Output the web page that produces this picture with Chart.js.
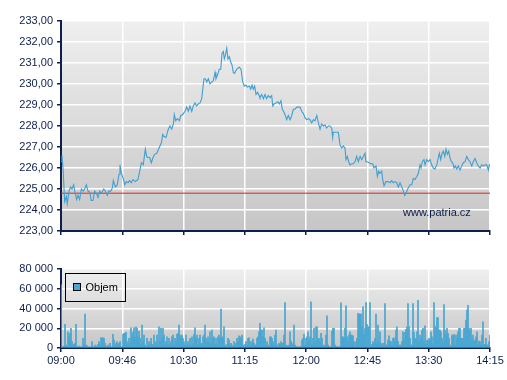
<!DOCTYPE html>
<html><head><meta charset="utf-8">
<script src="https://cdn.jsdelivr.net/npm/chart.js@4/dist/chart.umd.min.js"></script>
<style>
html,body{margin:0;padding:0;background:#fff;}
#wrap{position:relative;width:507px;height:380px;overflow:hidden;}
#c1{position:absolute;left:0;top:0;width:507px;height:237px;}
#c2{position:absolute;left:0;top:250px;width:507px;height:130px;}
</style></head><body>
<div id="wrap"><canvas id="c1" width="507" height="237"></canvas><canvas id="c2" width="507" height="130"></canvas></div>
<script>
// ---- data ----
const timeLabels = ['09:00','09:46','10:30','11:15','12:00','12:45','13:30','14:15'];
const priceMinutes = [0,0.7,1.5,2.7,3.9,4.6,5.9,7.1,8.1,9.3,10.1,11.5,12.5,13.7,14.9,16.4,17.4,18.6,19.8,21.1,22.2,23.5,24.7,25.9,27.2,28.4,29.6,31.4,32.5,34.0,35.0,36.5,37.7,38.4,39.9,41.3,42.6,43.3,44.3,45.7,46.8,47.9,49.2,50.4,51.6,52.9,54.6,56.5,57.8,59.0,60.4,61.9,62.9,63.9,65.1,66.3,67.6,68.8,70.3,72.0,73.7,74.7,75.6,77.1,78.8,80.0,81.3,82.5,83.2,84.2,85.4,86.9,87.9,89.4,91.1,92.3,93.5,94.7,96.0,97.1,98.4,99.6,100.8,102.1,103.3,104.0,105.0,106.0,107.0,108.2,109.4,110.7,111.8,113.1,113.8,114.8,116.2,117.3,118.2,119.2,119.9,120.6,121.7,122.6,123.6,124.6,125.6,126.5,127.5,128.5,129.8,130.9,132.2,133.4,134.6,135.8,136.8,138.3,139.3,140.3,141.2,142.2,143.2,144.4,145.4,146.1,147.4,148.6,149.8,151.0,152.2,153.5,154.7,155.5,156.4,157.9,159.1,160.3,161.5,162.5,163.7,164.7,165.7,166.9,168.2,169.4,170.6,171.8,173.1,174.3,175.5,176.7,177.9,179.2,180.4,181.6,182.8,184.1,185.3,186.5,187.8,189.0,190.2,191.4,192.6,193.9,195.1,196.3,197.5,198.8,199.5,199.9,201.2,202.4,203.6,204.9,206.1,207.3,208.5,209.3,210.2,211.2,212.2,213.4,214.6,215.9,217.1,218.3,219.6,220.8,222.0,223.2,223.9,224.9,226.2,227.4,228.9,229.8,231.3,232.3,233.3,234.2,235.5,236.2,237.2,238.6,240.3,241.6,242.8,244.0,245.3,246.5,247.7,248.9,250.2,251.4,252.4,253.3,254.3,255.3,256.3,257.5,258.7,259.9,261.2,262.4,263.6,264.4,265.3,266.5,267.3,268.5,269.7,271.0,272.2,273.4,274.6,275.9,277.1,277.8,278.8,279.8,280.7,281.8,282.7,283.7,284.7,285.6,286.6,287.6,288.6,289.5,290.6,291.7,293.0,294.2,295.4,296.7,297.9,299.1,300.3,301.6,302.7,304.0,305.2,306.4,307.7,308.9,310.1,311.3,312.6,313.8,314.5,315];
const prices = [226.3,226.6,226.0,224.4,224.65,224.3,224.9,225.1,225.0,225.2,224.9,224.5,224.7,224.5,225.0,224.9,225.0,225.2,224.9,224.85,224.45,224.45,224.9,224.8,224.6,224.9,224.8,225.0,224.9,224.7,224.9,224.9,225.05,225.4,225.1,225.2,225.7,226.15,225.75,225.5,225.2,225.35,225.3,225.4,225.3,225.45,225.35,225.45,225.85,226.25,226.15,226.9,226.55,226.5,226.5,226.25,226.5,226.65,226.7,226.95,227.2,227.6,227.5,227.45,227.85,228.0,227.85,228.1,228.55,228.25,228.35,228.25,228.5,228.55,228.7,228.9,228.7,228.95,228.7,228.95,229.1,228.95,229.05,229.1,229.3,229.7,230.25,230.25,230.1,230.25,230.0,230.1,230.15,230.55,230.25,230.4,230.7,230.7,231.45,231.55,231.2,231.35,231.7,231.2,231.3,231.05,230.9,230.55,230.5,230.65,230.75,230.8,230.7,230.1,229.9,229.95,229.85,229.9,229.75,229.95,229.75,229.9,229.5,229.6,229.45,229.35,229.5,229.3,229.5,229.3,229.45,229.35,229.45,228.95,229.05,229.1,229.15,229.05,229.2,228.8,228.65,228.5,228.3,228.5,228.3,228.5,228.8,228.8,228.9,228.9,228.9,228.7,228.6,228.4,228.3,228.35,228.3,228.15,228.3,228.25,228.5,228.15,227.85,228.1,228.0,228.05,227.9,228.0,228.0,227.9,227.45,227.7,227.7,227.7,227.7,227.1,226.95,227.05,226.95,226.4,226.55,226.3,226.15,226.2,226.2,226.3,226.55,226.3,226.55,226.4,226.55,226.7,226.3,226.3,226.25,226.2,226.2,226.0,226.1,225.6,225.85,225.75,225.85,225.45,225.15,225.35,225.35,225.3,225.4,225.3,225.35,225.3,225.1,225.3,225.1,224.9,224.7,224.8,224.95,225.1,225.2,225.2,225.5,225.45,225.6,225.75,226.15,226.0,226.3,226.4,226.15,226.4,226.3,226.4,226.15,226.0,225.95,226.15,226.5,226.7,226.4,226.7,226.8,226.55,226.9,226.65,226.8,226.5,226.3,226.25,226.0,226.1,225.95,226.1,225.9,226.1,226.25,226.3,226.55,226.4,226.3,226.1,226.3,226.45,226.25,226.1,226.0,226.15,226.1,226.15,226.15,225.9,226.15,226.1];
const previousClose = 224.8;
const volumes = [
64000,1300,1300,2000,24000,3000,1300,16500,11400,14800,19800,6400,3000,3700,4700,23900,1300,1300,2000,1300,
1000,1300,9700,3000,34300,3000,2300,1300,1000,1300,1000,6400,1000,1300,3000,2300,1000,3700,6400,3000,
10400,10400,10400,9700,4700,2300,1000,3000,1000,4700,1300,1000,13800,8000,3000,4700,6400,3000,4700,6400,
1300,1000,13800,14800,14800,15800,6400,3000,9700,4700,20500,11400,15800,20500,11400,21500,19800,11400,17000,9700,
3700,23200,6400,13100,3000,1000,9700,3000,6400,3700,9700,3700,3000,13100,3000,6400,13100,1500,21500,6400,
19800,9700,19800,13100,3000,6400,11400,3000,9700,3000,6400,11400,13100,3000,9700,6400,13800,14800,23200,13100,
11400,13100,9700,6400,3000,13100,3000,6400,3000,9700,3000,11400,3000,13800,20500,9700,13100,3000,9700,13100,
4700,3000,11400,13100,23200,9700,6400,11400,6400,16500,4700,18100,9700,11400,3700,9700,3000,11400,13100,10400,
39300,10400,11400,21500,3000,1300,3700,9700,8000,3000,4700,3000,1300,6400,2300,4700,9700,6400,12400,11400,
10400,13100,3000,1300,3700,6400,3000,9700,10400,6400,3000,6400,9100,4700,3000,3000,9700,11400,16500,24900,
18100,18100,11400,20500,9700,3000,6400,3000,1300,11400,11400,
9700,6400,3000,13100,18100,3000,3000,4700,3700,6400,4700,4700,13100,46000,3000,2300,2300,3000,16500,7100,
4700,3000,23200,3000,1300,1300,1300,1300,1300,1300,8100,9700,13800,3000,9700,11400,16500,6400,11400,46700,
3000,9700,19800,4700,21500,21500,8100,9700,6400,14800,9700,3000,1300,3000,13100,32600,3000,1300,1300,1300,
17100,19800,19800,3000,1300,1300,1300,1300,1300,45700,11400,11400,9700,19800,42700,11400,6400,13100,16500,13100,
13100,12400,6400,1300,6400,9700,35000,34300,34300,34300,21500,41700,13100,19800,46000,23900,21500,21500,46000,1300,
3700,6400,4700,9700,34300,4700,23200,6400,16500,3000,4700,3000,4700,45000,3000,3000,8100,12400,7100,6400,
3000,9700,10400,6400,18100,21500,6400,3000,3000,3000,6400,16500,8100,15800,18800,21500,45000,21500,9700,3000,
3000,45000,15800,9700,8100,16500,48400,6400,13100,9700,18100,19800,6400,22500,3700,8100,7100,9700,8100,16500,
11400,3000,46000,22200,19800,30900,30900,18100,18100,16500,9700,6400,44000,18100,13100,19800,14800,9700,3000,1300,
13100,12400,13800,3000,13100,10400,16500,19800,19800,9700,9700,9700,19800,19800,28200,38300,43300,19800,18100,19800,
9700,13100,6400,8100,11400,16500,3000,7100,6400,3000,13100,26500,3000,3700,9700,3000,3000,6400,13100
];
const volumeLabel = 'Objem';
const watermark = 'www.patria.cz';

// ---- style ----
const NAVY = '#0d1f4c';
const FONT = "'Liberation Sans', Arial, sans-serif";
const SESSION_MIN = 315;

function czPrice(v){ return v.toFixed(2).replace('.', ','); }
function czThousands(v){ return String(v).replace(/\B(?=(\d{3})+(?!\d))/g, ' '); }

const bgPlugin = {
  id: 'bg',
  beforeDraw(chart){
    const {ctx, chartArea:a} = chart;
    const g = ctx.createLinearGradient(0, a.top, 0, a.bottom);
    g.addColorStop(0, '#efefef');
    g.addColorStop(1, '#c6c6c6');
    ctx.save();
    ctx.fillStyle = g;
    ctx.fillRect(a.left, a.top, a.right - a.left, a.bottom - a.top);
    ctx.restore();
  }
};

const watermarkPlugin = {
  id: 'wm',
  afterDatasetsDraw(chart){
    const ctx = chart.ctx;
    ctx.save();
    ctx.font = '11px ' + FONT;
    ctx.fillStyle = NAVY;
    ctx.textBaseline = 'middle';
    ctx.textAlign = 'left';
    ctx.fillText(watermark, 403, 213);
    ctx.restore();
  }
};

const legendPlugin = {
  id: 'boxLegend',
  afterDraw(chart){
    const ctx = chart.ctx;
    const a = chart.chartArea;
    const x = Math.round(a.left) + 4.5, y = Math.round(a.top) + 4.5;
    ctx.save();
    ctx.strokeStyle = '#000';
    ctx.lineWidth = 1;
    ctx.strokeRect(x, y, 60, 28);
    ctx.fillStyle = chart.data.datasets[0].backgroundColor;
    ctx.fillRect(x + 8, y + 10, 7, 7);
    ctx.strokeRect(x + 8, y + 10, 7, 7);
    ctx.fillStyle = '#000';
    ctx.font = '11px ' + FONT;
    ctx.textBaseline = 'middle';
    ctx.fillText(chart.data.datasets[0].label, x + 20, y + 14);
    ctx.restore();
  }
};

function xAxis(showLabels, height){
  return {
    type: 'linear', min: 0, max: SESSION_MIN, offset: false,
    grid: { color: '#ffffff', lineWidth: 1.5, tickColor: NAVY, tickLength: 4, drawTicks: true, offset: false },
    border: { color: NAVY, width: 2 },
    ticks: {
      display: showLabels, stepSize: 45, autoSkip: false, maxRotation: 0, padding: 2,
      color: NAVY, font: { family: FONT, size: 11 },
      callback: (v) => timeLabels[Math.round(v / 45)]
    },
    afterFit(s){ s.height = height; s.paddingLeft = 0; s.paddingRight = 0; }
  };
}
function yAxis(min, max, step, fmt){
  return {
    min, max,
    grid: { color: '#ffffff', lineWidth: 1.5, tickColor: NAVY, tickLength: 4 },
    border: { color: NAVY, width: 2 },
    ticks: { stepSize: step, padding: 4, color: NAVY, font: { family: FONT, size: 11 }, callback: fmt },
    afterFit(s){ s.width = 61; s.paddingTop = 0; s.paddingBottom = 0; }
  };
}

const n = Math.min(priceMinutes.length, prices.length);
new Chart(document.getElementById('c1'), {
  type: 'line',
  data: {
    datasets: [
      { label: 'Cena', data: priceMinutes.slice(0, n).map((m, i) => ({ x: m, y: prices[i] })),
        borderColor: '#3f9fd1', borderWidth: 1.1, pointRadius: 0, tension: 0 },
      { label: 'Předchozí závěr', data: [{ x: 0, y: previousClose }, { x: SESSION_MIN, y: previousClose }],
        borderColor: '#e8221c', borderWidth: 1, pointRadius: 0 }
    ]
  },
  options: {
    responsive: false, animation: false,
    layout: { padding: { top: 21, right: 17, left: 0, bottom: 0 } },
    plugins: { legend: { display: false }, tooltip: { enabled: false } },
    scales: {
      x: xAxis(false, 6),
      y: yAxis(223, 233, 1, (v) => czPrice(v))
    }
  },
  plugins: [bgPlugin, watermarkPlugin]
});

const nv = volumes.length;
new Chart(document.getElementById('c2'), {
  type: 'bar',
  data: {
    datasets: [
      { label: volumeLabel, data: volumes.map((v, i) => ({ x: i * SESSION_MIN / (nv - 1), y: v })),
        backgroundColor: '#47a6d2', barThickness: 1, borderWidth: 0 }
    ]
  },
  options: {
    responsive: false, animation: false,
    layout: { padding: { top: 19, right: 17, left: 0, bottom: 0 } },
    plugins: { legend: { display: false }, tooltip: { enabled: false } },
    scales: {
      x: xAxis(true, 32),
      y: yAxis(0, 80000, 20000, (v) => czThousands(v))
    }
  },
  plugins: [bgPlugin, legendPlugin]
});
</script>
</body></html>
